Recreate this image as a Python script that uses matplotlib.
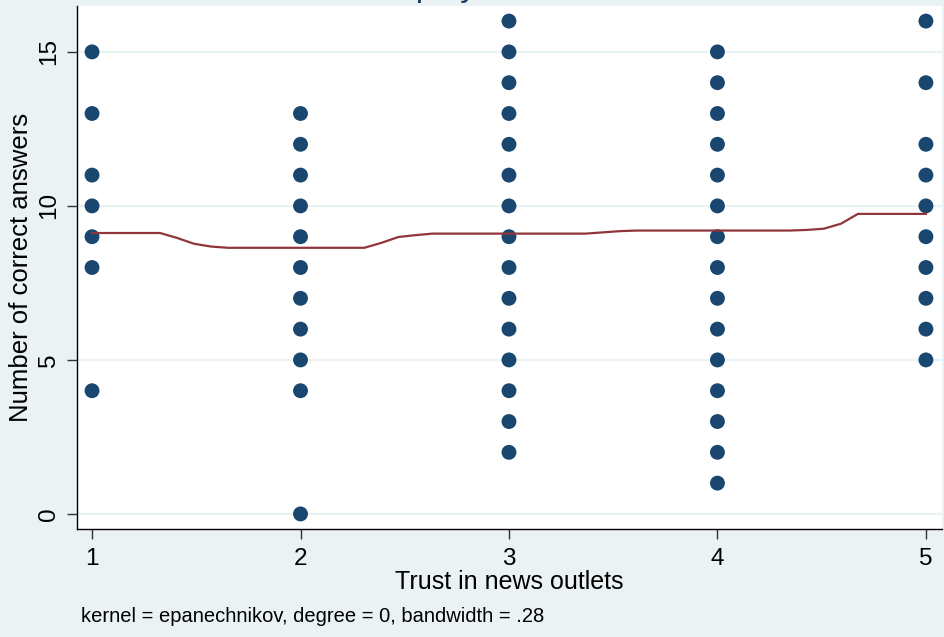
import numpy as np
import matplotlib
matplotlib.use('Agg')
import matplotlib.pyplot as plt

plt.rcParams['font.family'] = ['Liberation Sans', 'DejaVu Sans']

# observed answers per trust level
trust_levels = [1, 2, 3, 4, 5]
correct = {
    1: [15, 13, 11, 10, 9, 8, 4],
    2: [13, 12, 11, 10, 9, 8, 7, 6, 5, 4, 0],
    3: [16, 15, 14, 13, 12, 11, 10, 9, 8, 7, 6, 5, 4, 3, 2],
    4: [15, 14, 13, 12, 11, 10, 9, 8, 7, 6, 5, 4, 3, 2, 1],
    5: [16, 14, 12, 11, 10, 9, 8, 7, 6, 5],
}

# lpoly smooth evaluated on 50 grid points between 1 and 5
smooth_y = [9.12, 9.12, 9.12, 9.12, 9.12, 8.96, 8.77, 8.68, 8.64, 8.64,
            8.64, 8.64, 8.64, 8.64, 8.64, 8.64, 8.64, 8.80, 8.99, 9.05,
            9.10, 9.10, 9.10, 9.10, 9.10, 9.10, 9.10, 9.10, 9.10, 9.10,
            9.14, 9.18, 9.20, 9.20, 9.20, 9.20, 9.20, 9.20, 9.20, 9.20,
            9.20, 9.20, 9.22, 9.26, 9.42, 9.74, 9.74, 9.74, 9.74, 9.74]
smooth_x = np.linspace(1, 5, len(smooth_y))

bg = '#EAF2F3'
fig = plt.figure(figsize=(9.45, 6.37), dpi=100, facecolor=bg)
ax = fig.add_axes([0.0815, 0.1695, 0.9153, 0.8211])
ax.set_facecolor('white')

for y in [0, 5, 10, 15]:
    ax.axhline(y, color=bg, lw=1.6, zorder=0)

for t in trust_levels:
    ax.scatter([t] * len(correct[t]), correct[t], s=115, color='#1A476F',
               edgecolors='none', zorder=2)
ax.plot(smooth_x, smooth_y, color='#90353B', lw=1.6, zorder=3)

ax.set_xlim(0.928, 5.077)
ax.set_ylim(-0.49, 16.49)
ax.set_xticks(trust_levels)
ax.set_yticks([0, 5, 10, 15])
ax.tick_params(axis='both', direction='out', length=7, width=1, color='#333333',
               labelsize=17.5)
ax.tick_params(axis='y', pad=5)
ax.tick_params(axis='x', pad=7)
for lbl in ax.get_yticklabels():
    lbl.set_rotation(90)
    lbl.set_va('center')

for side in ['top', 'right']:
    ax.spines[side].set_visible(False)
for side in ['left', 'bottom']:
    ax.spines[side].set_color('black')
    ax.spines[side].set_linewidth(1.0)

ax.set_xlabel('Trust in news outlets', fontsize=18, labelpad=0)
ax.set_ylabel('Number of correct answers', fontsize=18.5, labelpad=4)

fig.text(0.54, 1.006, 'Local polynomial smooth', fontsize=24, color='#1C3F63',
         ha='center', va='baseline')
fig.text(0.086, 0.024, 'kernel = epanechnikov, degree = 0, bandwidth = .28', fontsize=14.5)

fig.savefig('out.png', dpi=100, facecolor=bg)
